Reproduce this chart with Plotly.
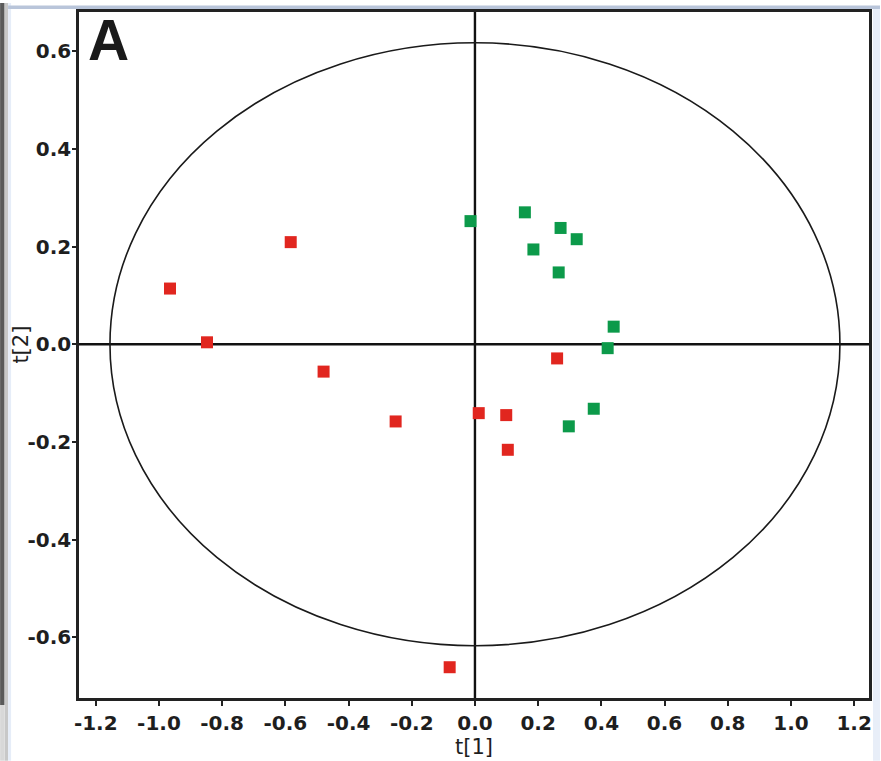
import plotly.graph_objects as go

# Score plot: t[1] vs t[2] for two sample groups
red_t1 = [-0.965, -0.848, -0.583, -0.479, -0.251, 0.012, 0.099, 0.104, 0.260, -0.080]
red_t2 = [0.114, 0.004, 0.209, -0.056, -0.158, -0.141, -0.145, -0.216, -0.029, -0.661]

green_t1 = [-0.014, 0.158, 0.271, 0.322, 0.185, 0.265, 0.439, 0.420, 0.376, 0.297]
green_t2 = [0.252, 0.270, 0.238, 0.215, 0.194, 0.147, 0.036, -0.008, -0.132, -0.168]

# Hotelling T2 ellipse semi-axes
ellipse_a = 1.155
ellipse_b = 0.617

x_ticks = [-1.2, -1.0, -0.8, -0.6, -0.4, -0.2, 0.0, 0.2, 0.4, 0.6, 0.8, 1.0, 1.2]
y_ticks = [-0.6, -0.4, -0.2, 0.0, 0.2, 0.4, 0.6]
x_labels = [f"{v:.1f}" for v in x_ticks]
y_labels = [f"{v:.1f}" for v in y_ticks]

W, H = 881, 761
L, R, T, B = 79, 11, 9, 63
PW, PH = W - L - R, H - T - B


def px(x):
    return (x - L) / PW


def py(y):
    return (H - B - y) / PH


TICK_FONT = dict(size=20, family="DejaVu Sans, sans-serif", weight="bold", color="#1e1e1e")
TITLE_FONT = dict(size=21, family="DejaVu Sans, sans-serif", color="#1e1e1e")

fig = go.Figure()
fig.add_trace(go.Scatter(
    x=red_t1, y=red_t2, mode="markers",
    marker=dict(symbol="square", size=12, color="#e1261f", line=dict(width=0)),
    showlegend=False, cliponaxis=False))
fig.add_trace(go.Scatter(
    x=green_t1, y=green_t2, mode="markers",
    marker=dict(symbol="square", size=12, color="#0c9a4a", line=dict(width=0)),
    showlegend=False, cliponaxis=False))

shapes = [
    dict(type="circle", xref="x", yref="y", x0=-ellipse_a, x1=ellipse_a,
         y0=-ellipse_b, y1=ellipse_b, line=dict(color="#1a1a1a", width=1.6), layer="below"),
    dict(type="line", xref="x", yref="paper", x0=0, x1=0, y0=0, y1=1,
         line=dict(color="#111", width=2.4), layer="below"),
    dict(type="line", xref="paper", yref="y", x0=0, x1=1, y0=0, y1=0,
         line=dict(color="#111", width=2.4), layer="below"),
    # page edge decorations
    dict(type="rect", xref="paper", yref="paper", x0=px(0), x1=px(4.5), y0=py(705), y1=py(0),
         fillcolor="#5a5a5a", line=dict(width=0), layer="below"),
    dict(type="rect", xref="paper", yref="paper", x0=px(4.5), x1=px(8), y0=py(761), y1=py(0),
         fillcolor="#c8c8c8", line=dict(width=0), layer="below"),
    dict(type="rect", xref="paper", yref="paper", x0=px(0), x1=px(4.5), y0=py(761), y1=py(705),
         fillcolor="#d8d8d8", line=dict(width=0), layer="below"),
    dict(type="rect", xref="paper", yref="paper", x0=px(8), x1=px(11), y0=py(761), y1=py(0),
         fillcolor="#e6edf8", line=dict(width=0), layer="below"),
    dict(type="rect", xref="paper", yref="paper", x0=px(8), x1=px(881), y0=py(6), y1=py(2.5),
         fillcolor="#b9c5da", line=dict(width=0), layer="below"),
    dict(type="rect", xref="paper", yref="paper", x0=px(874), x1=px(881), y0=py(761), y1=py(6),
         fillcolor="#e8eef8", line=dict(width=0), layer="below"),
]

fig.update_layout(
    width=W, height=H,
    margin=dict(l=L, r=R, t=T, b=B, pad=0),
    paper_bgcolor="white", plot_bgcolor="white",
    shapes=shapes,
    font=dict(family="Liberation Sans, Arial, sans-serif", color="#1a1a1a"),
    annotations=[
        dict(text="<b>A</b>", xref="paper", yref="paper", x=px(86), y=py(3),
             xanchor="left", yanchor="top", showarrow=False,
             font=dict(size=57, color="#1a1a1a", family="Liberation Sans, Arial, sans-serif")),
        dict(text="t[2]", xref="paper", yref="paper", x=px(20), y=py(343),
             xanchor="center", yanchor="middle", textangle=-90, showarrow=False,
             font=TITLE_FONT),
    ],
)

fig.update_xaxes(
    range=[-1.253, 1.247], tickvals=x_ticks, ticktext=x_labels,
    ticks="outside", ticklen=5, tickwidth=1.5, tickcolor="#222",
    showline=True, linecolor="#222", linewidth=2.5, mirror=True,
    showgrid=False, zeroline=False,
    tickfont=TICK_FONT,
    title=dict(text="t[1]", font=TITLE_FONT, standoff=0),
)
fig.update_yaxes(
    range=[-0.724, 0.680], tickvals=y_ticks, ticktext=y_labels,
    ticks="outside", ticklen=4, tickwidth=1.5, tickcolor="#222",
    showline=True, linecolor="#222", linewidth=2.5, mirror=True,
    showgrid=False, zeroline=False, ticklabelstandoff=-3,
    tickfont=TICK_FONT,
)

fig.write_html("out.html")
